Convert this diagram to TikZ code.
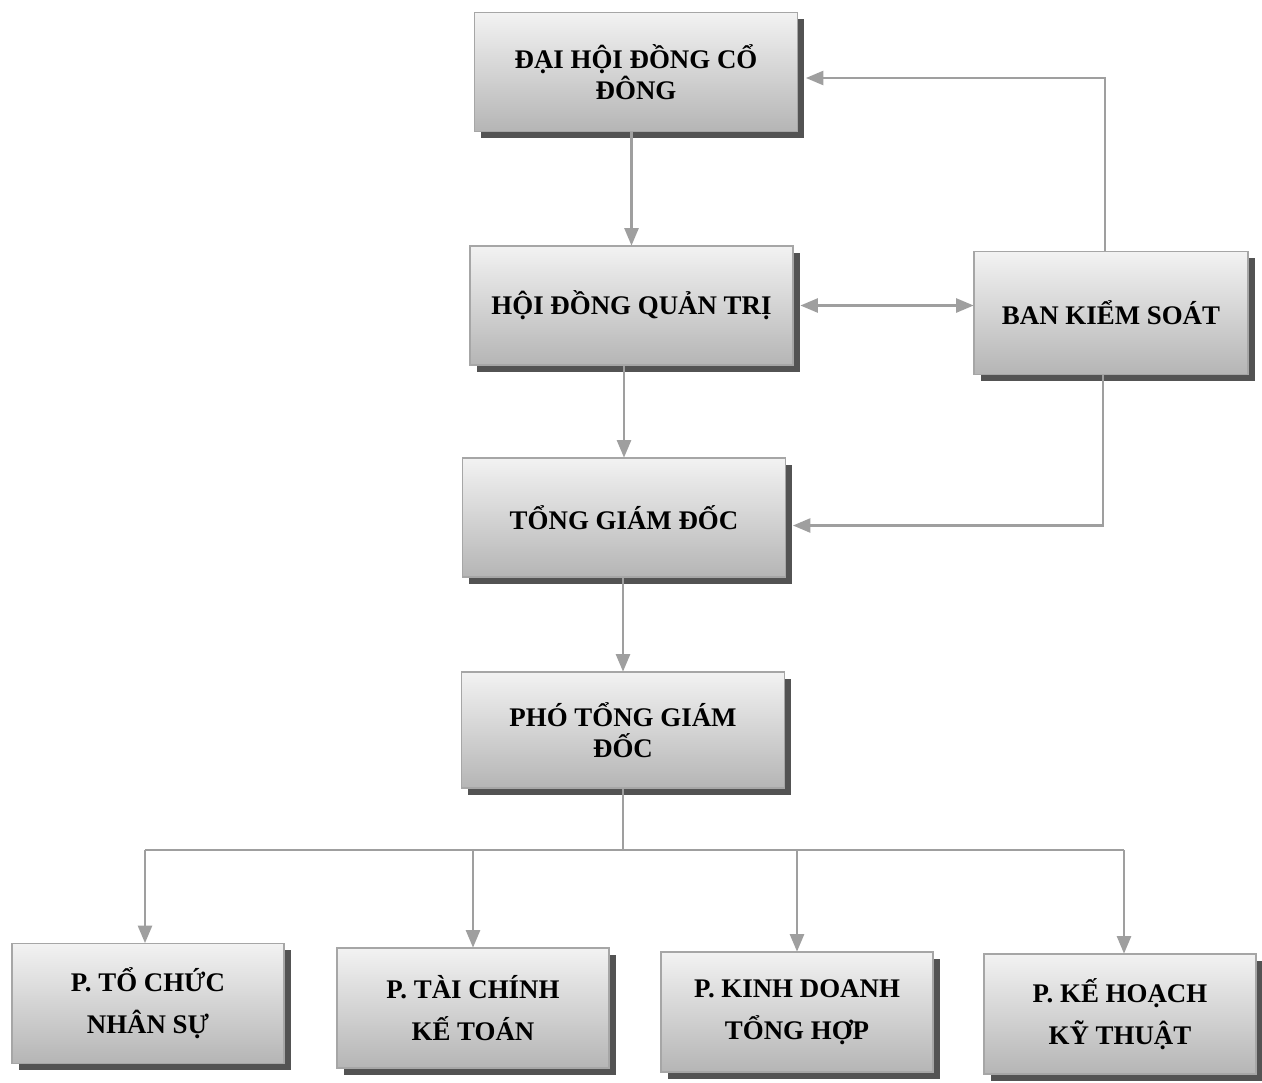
\documentclass[tikz,border=0pt]{standalone}
\usepackage{fontspec}
\setmainfont{Liberation Serif}
\usepackage{tikz}
\usetikzlibrary{arrows, shapes, positioning, shadows}

\tikzset{
	orgbox/.style={draw=gray!70, line width=0.6pt, rectangle, text centered, align=center,
		top color=gray!10, bottom color=gray!58, minimum width=6.46cm, minimum height=2.38cm,
		font=\bfseries\fontsize{15.3}{17.5}\selectfont,
		drop shadow={shadow xshift=0.13cm, shadow yshift=-0.13cm, fill=gray!65!black, opacity=1}},
	deptbox/.style={orgbox, minimum width=5.44cm, minimum height=2.40cm,
		font=\bfseries\fontsize{15.3}{24}\selectfont},
	link/.style={line width=1.3pt, draw=gray!75, -triangle 45}
}

\begin{document}
\begin{tikzpicture}
	\useasboundingbox (0,0) rectangle (25.24,-21.64);
	     % nodes %
      \node[orgbox] (dhdcd) at (12.72,-1.44) {ĐẠI HỘI ĐỒNG CỔ\\ĐÔNG};
      \node[orgbox] (hdqt) at (12.63,-6.11) {HỘI ĐỒNG QUẢN TRỊ};
      \node[orgbox, minimum width=5.48cm, minimum height=2.46cm] (bks) at (22.22,-6.26) {BAN KIỂM SOÁT};
      \node[orgbox] (tgd) at (12.48,-10.35) {TỔNG GIÁM ĐỐC};
      \node[orgbox, minimum height=2.32cm] (ptgd) at (12.46,-14.60) {PHÓ TỔNG GIÁM\\ĐỐC};
      \node[deptbox] (tcns) at (2.96,-20.07) {P. TỔ CHỨC\\NHÂN SỰ};
      \node[deptbox] (tckt) at (9.46,-20.16) {P. TÀI CHÍNH\\KẾ TOÁN};
      \node[deptbox] (kdth) at (15.94,-20.24) {P. KINH DOANH\\TỔNG HỢP};
      \node[deptbox] (khkt) at (22.40,-20.28) {P. KẾ HOẠCH\\KỸ THUẬT};

      % bus %
      \coordinate (bus) at (12.46,-17.00);
      \coordinate (j1) at (2.90,-17.00);
      \coordinate (j2) at (9.46,-17.00);
      \coordinate (j3) at (15.94,-17.00);
      \coordinate (j4) at (22.48,-17.00);

      % edges %
      \draw[link] (hdqt.north |- dhdcd.south) -- (hdqt.north);
      \draw[link] (tgd.north |- hdqt.south) -- (tgd.north);
      \draw[link] (ptgd.north |- tgd.south) -- (ptgd.north);
      \draw[link, triangle 45-triangle 45, shorten <=0.14cm] (hdqt.east) -- (hdqt.east -| bks.west);
      \draw[link, shorten >=0.16cm] ([xshift=-0.12cm]bks.north) |- ([yshift=-0.12cm]dhdcd.east);
      \draw[link, shorten >=0.14cm] ([xshift=-0.16cm]bks.south) |- ([yshift=-0.16cm]tgd.east);
      %\draw[link] (ptgd) -- (bus);
      \draw[line width=1.3pt, draw=gray!75] (ptgd.south) -- (bus);
      \draw[line width=1.3pt, draw=gray!75] (j1) -- (j4);
      \draw[link] (j1) -- (j1 |- tcns.north);
      \draw[link] (j2) -- (j2 |- tckt.north);
      \draw[link] (j3) -- (j3 |- kdth.north);
      \draw[link] (j4) -- (j4 |- khkt.north);
\end{tikzpicture}
\end{document}
